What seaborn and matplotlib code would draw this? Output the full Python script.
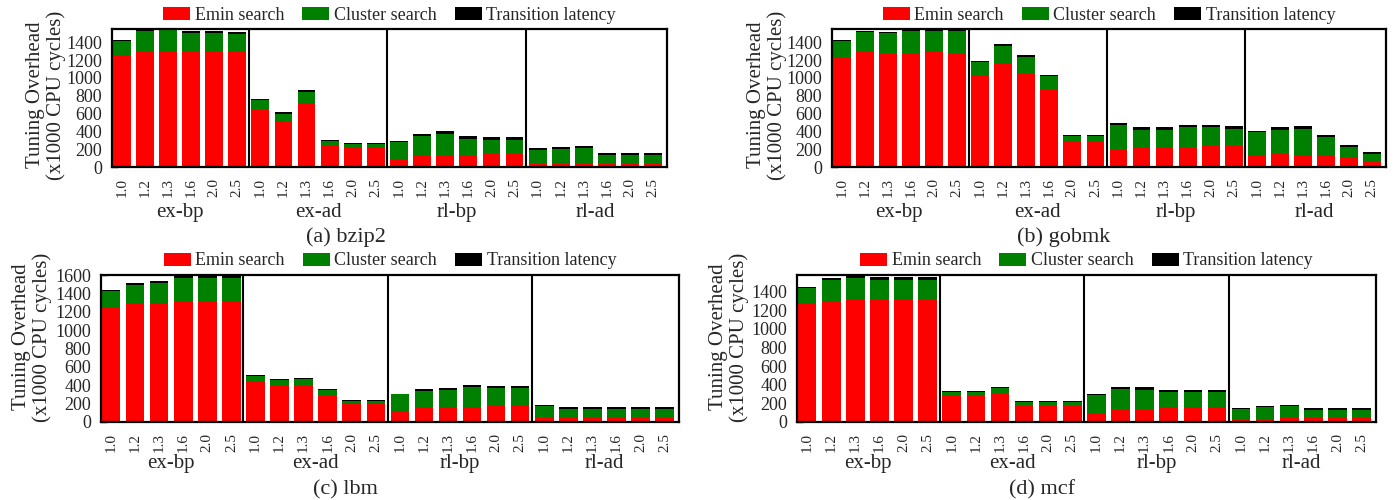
import matplotlib
matplotlib.use("Agg")
import matplotlib.pyplot as plt
from matplotlib.patches import Patch
import seaborn as sns
import pandas as pd

groups = ["ex-bp", "ex-ad", "rl-bp", "rl-ad"]
ratios = ["1.0", "1.2", "1.3", "1.6", "2.0", "2.5"]

# values in x1000 CPU cycles, 24 bars per benchmark (group-major order)
bzip2_emin = [1245, 1288, 1288, 1288, 1288, 1288, 652, 513, 719, 232, 221, 221,
              94, 120, 120, 135, 142, 142, 41, 41, 41, 41, 41, 41]
bzip2_cluster = [174, 236, 248, 218, 218, 206, 97, 86, 127, 56, 37, 37,
                 183, 225, 247, 176, 158, 158, 154, 157, 169, 90, 90, 90]
bzip2_trans = [12, 25, 25, 26, 26, 27, 11, 15, 15, 12, 12, 12,
               19, 30, 34, 34, 33, 33, 15, 23, 22, 23, 23, 23]

gobmk_emin = [1236, 1300, 1281, 1281, 1288, 1281, 1034, 1169, 1056, 861, 288, 288,
              206, 221, 221, 221, 243, 243, 131, 154, 139, 131, 109, 71]
gobmk_cluster = [183, 213, 225, 243, 244, 243, 142, 187, 184, 158, 57, 57,
                 270, 198, 198, 225, 203, 180, 266, 265, 292, 202, 119, 79]
gobmk_trans = [6, 19, 15, 30, 28, 30, 11, 22, 22, 18, 11, 11,
               22, 27, 27, 30, 30, 34, 11, 27, 26, 23, 23, 22]

lbm_emin = [1256, 1289, 1289, 1307, 1307, 1307, 440, 397, 397, 289, 199, 199,
            116, 152, 152, 159, 173, 173, 40, 40, 51, 40, 51, 51]
lbm_cluster = [170, 202, 227, 263, 263, 263, 65, 58, 69, 54, 25, 25,
               187, 184, 195, 220, 195, 195, 133, 104, 93, 104, 86, 86]
lbm_trans = [11, 18, 18, 20, 20, 20, 11, 11, 10, 11, 11, 11,
             7, 18, 18, 29, 29, 29, 7, 15, 15, 15, 22, 22]

mcf_emin = [1275, 1293, 1311, 1311, 1311, 1311, 287, 280, 302, 180, 180, 180,
            90, 126, 126, 151, 151, 151, 18, 25, 40, 40, 40, 40]
mcf_cluster = [165, 233, 237, 215, 215, 215, 36, 43, 64, 35, 35, 35,
               201, 226, 215, 169, 169, 169, 118, 133, 129, 86, 86, 86]
mcf_trans = [7, 18, 21, 36, 36, 36, 7, 7, 11, 11, 11, 11,
             14, 21, 32, 28, 28, 28, 11, 11, 11, 21, 21, 21]

series_names = ["Emin search", "Cluster search", "Transition latency"]
colors = ["#ff0000", "#008000", "#000000"]

sns.set_theme(style="white")
plt.rcParams["font.family"] = ["Liberation Serif", "DejaVu Serif"]

W, H = 1395, 500
fig = plt.figure(figsize=(W / 100, H / 100), dpi=100)

# title, data, ylim, last ytick, axes box px (l, t, r, b), ylabel centre,
# caption centre, group-label baseline offset below the axes (px)
panels = [
    ("(a) bzip2", (bzip2_emin, bzip2_cluster, bzip2_trans), 1550, 1400, (112, 29, 667, 167), (46, 95), (346, 237), 50),
    ("(b) gobmk", (gobmk_emin, gobmk_cluster, gobmk_trans), 1550, 1400, (832, 29, 1386, 167), (767, 95), (1064, 237), 50),
    ("(c) lbm", (lbm_emin, lbm_cluster, lbm_trans), 1600, 1600, (101, 275, 679, 422), (32, 337), (345, 490), 46),
    ("(d) mcf", (mcf_emin, mcf_cluster, mcf_trans), 1580, 1400, (797, 275, 1376, 422), (729, 337), (1042, 490), 46),
]

for title, (emin, cluster, trans), ymax, ytop, box, ylab_pos, cap_pos, goff in panels:
    l, t, r, b = box
    h = b - t
    ax = fig.add_axes([l / W, 1 - b / H, (r - l) / W, h / H])
    keys = [g + "|" + q for g in groups for q in ratios]
    df = pd.DataFrame({"key": keys, "emin": emin, "cluster": cluster, "trans": trans})
    df["s2"] = df["emin"] + df["cluster"]
    df["s3"] = df["s2"] + df["trans"]

    # stacked bars: draw the cumulative totals from the top down
    for col, c in zip(["s3", "s2", "emin"], colors[::-1]):
        sns.barplot(data=df, x="key", y=col, order=keys, color=c, saturation=1,
                    width=0.77, linewidth=0, ax=ax, errorbar=None)

    ax.set_xlim(-0.42, 23.6)
    ax.set_ylim(0, ymax)
    ax.set_yticks(range(0, ytop + 1, 200))
    ax.set_xticks(range(24))
    ax.set_xticklabels(ratios * 4, rotation=90, fontsize=11)
    ax.tick_params(axis="x", direction="in", length=6, width=1.2, color="black", pad=8,
                   bottom=True, top=False)
    ax.tick_params(axis="y", direction="in", length=4, width=1, color="black", pad=7,
                   left=True, right=False, labelsize=13)
    ax.set_xlabel("")
    ax.set_ylabel("")
    for s in ax.spines.values():
        s.set_color("black")
        s.set_linewidth(1.6)
    for xs in [5.5, 11.5, 17.5]:
        ax.axvline(xs, color="black", linewidth=1.5)

    # group labels under the tick labels
    for i, g in enumerate(groups):
        ax.text(i * 6 + 2.5, -goff / h, g, transform=ax.get_xaxis_transform(),
                ha="center", va="baseline", fontsize=15)

    fig.text(ylab_pos[0] / W, 1 - ylab_pos[1] / H, "Tuning Overhead\n(x1000 CPU cycles)",
             rotation=90, ha="center", va="center", multialignment="center",
             fontsize=15, linespacing=1.05)
    fig.text(cap_pos[0] / W, 1 - cap_pos[1] / H, title, ha="center", va="center", fontsize=16)

    handles = [Patch(facecolor=c, edgecolor="none", label=n) for c, n in zip(colors, series_names)]
    ax.legend(handles=handles, loc="center", bbox_to_anchor=(0.5, 1 + 14 / h), ncol=3,
              frameon=False, fontsize=13, handlelength=1.5, handleheight=0.75,
              handletextpad=0.25, columnspacing=1.0, borderpad=0, borderaxespad=0)

fig.savefig("out.png", dpi=100)
